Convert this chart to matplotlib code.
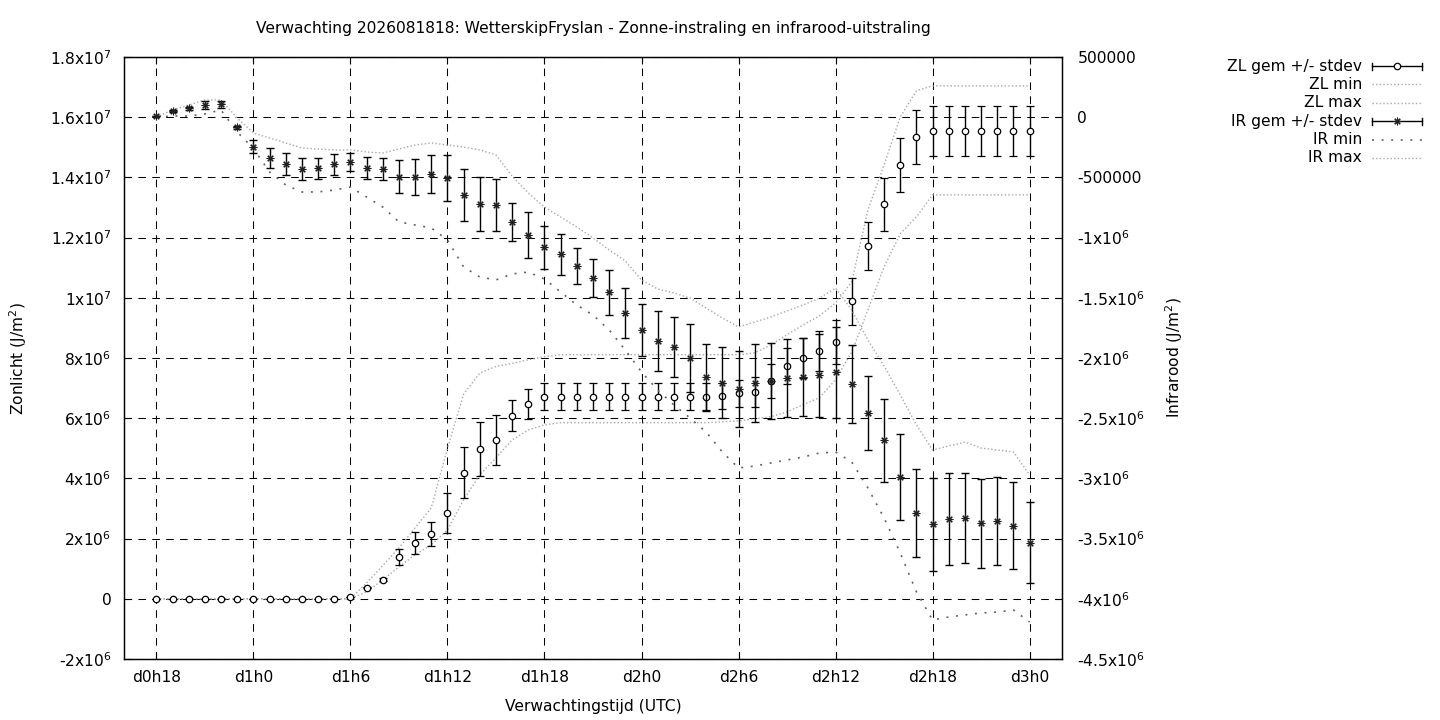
import numpy as np
import matplotlib
matplotlib.use("Agg")
import matplotlib.pyplot as plt
from matplotlib.lines import Line2D

plt.rcParams['font.family'] = ['DejaVu Sans']
plt.rcParams['lines.scale_dashes'] = False
plt.rcParams['font.size'] = 11.2

# ---------------- data ----------------
hours = list(range(18, 73))  # forecast hour since d0h0, hourly
xtick_hours = [18, 24, 30, 36, 42, 48, 54, 60, 66, 72]
xtick_labels = ['d0h18', 'd1h0', 'd1h6', 'd1h12', 'd1h18', 'd2h0', 'd2h6', 'd2h12', 'd2h18', 'd3h0']

zl_mean = [0, 0, 0, 0, 0, 0, 0, 0, 0, 0, 0, 0,
           0.05e6, 0.37e6, 0.63e6, 1.40e6, 1.86e6, 2.16e6, 2.86e6, 4.19e6, 4.98e6, 5.28e6, 6.08e6, 6.48e6,
           6.72e6, 6.72e6, 6.72e6, 6.72e6, 6.72e6, 6.72e6, 6.72e6, 6.72e6, 6.72e6, 6.72e6, 6.72e6, 6.74e6,
           6.83e6, 6.87e6, 7.23e6, 7.73e6, 8.00e6, 8.23e6, 8.53e6, 9.88e6, 11.72e6, 13.11e6, 14.41e6, 15.34e6,
           15.54e6, 15.54e6, 15.54e6, 15.54e6, 15.54e6, 15.54e6, 15.54e6]
zl_std = [0, 0, 0, 0, 0, 0, 0, 0, 0, 0, 0, 0,
          0, 0.02e6, 0.05e6, 0.27e6, 0.37e6, 0.39e6, 0.66e6, 0.84e6, 0.90e6, 0.83e6, 0.51e6, 0.49e6,
          0.44e6, 0.44e6, 0.44e6, 0.44e6, 0.44e6, 0.44e6, 0.44e6, 0.44e6, 0.44e6, 0.44e6, 0.44e6, 0.44e6,
          0.45e6, 0.50e6, 0.56e6, 0.60e6, 0.65e6, 0.66e6, 0.72e6, 0.78e6, 0.79e6, 0.88e6, 0.91e6, 0.91e6,
          0.84e6, 0.84e6, 0.84e6, 0.84e6, 0.84e6, 0.84e6, 0.84e6]
zl_min = [0, 0, 0, 0, 0, 0, 0, 0, 0, 0, 0, 0,
          0, 0.23e6, 0.63e6, 1.06e6, 1.46e6, 1.79e6, 2.29e6, 3.29e6, 4.12e6, 4.68e6, 5.28e6, 5.61e6,
          5.78e6, 5.85e6, 5.85e6, 5.85e6, 5.85e6, 5.85e6, 5.85e6, 5.85e6, 5.85e6, 5.85e6, 5.85e6, 5.88e6,
          5.91e6, 5.98e6, 6.05e6, 6.21e6, 6.45e6, 6.68e6, 7.28e6, 8.20e6, 9.60e6, 11.03e6, 12.13e6, 12.69e6,
          13.42e6, 13.42e6, 13.42e6, 13.42e6, 13.42e6, 13.42e6, 13.42e6]
zl_max = [0, 0, 0, 0, 0, 0, 0, 0, 0, 0, 0, 0,
          0, 0.53e6, 1.10e6, 1.69e6, 2.36e6, 3.02e6, 5.00e6, 6.80e6, 7.50e6, 7.72e6, 7.82e6, 7.94e6,
          8.04e6, 8.11e6, 8.11e6, 8.11e6, 8.11e6, 8.11e6, 8.11e6, 8.11e6, 8.11e6, 8.11e6, 8.11e6, 8.11e6,
          8.11e6, 8.17e6, 8.44e6, 8.77e6, 9.10e6, 9.40e6, 9.83e6, 10.53e6, 12.92e6, 14.42e6, 16.01e6, 16.88e6,
          17.04e6, 17.04e6, 17.04e6, 17.04e6, 17.04e6, 17.04e6, 17.04e6]

ir_mean = [1.0e4, 5.1e4, 7.4e4, 1.01e5, 1.07e5, -8.4e4, -2.45e5, -3.41e5, -3.91e5, -4.30e5, -4.24e5, -3.91e5,
           -3.70e5, -4.24e5, -4.30e5, -4.94e5, -4.94e5, -4.72e5, -5.07e5, -6.46e5, -7.21e5, -7.32e5, -8.70e5, -9.81e5,
           -1.081e6, -1.139e6, -1.236e6, -1.338e6, -1.455e6, -1.629e6, -1.767e6, -1.859e6, -1.906e6, -2.002e6, -2.160e6, -2.205e6,
           -2.260e6, -2.205e6, -2.191e6, -2.169e6, -2.155e6, -2.145e6, -2.119e6, -2.218e6, -2.454e6, -2.684e6, -2.988e6, -3.290e6,
           -3.381e6, -3.340e6, -3.331e6, -3.373e6, -3.354e6, -3.393e6, -3.534e6]
ir_std = [4e3, 8e3, 1.2e4, 3.2e4, 2.7e4, 1.2e4, 5.6e4, 8.3e4, 9.0e4, 9.0e4, 8.7e4, 8.7e4,
          7.5e4, 9.1e4, 9.4e4, 1.39e5, 1.50e5, 1.54e5, 1.89e5, 2.16e5, 2.24e5, 2.16e5, 1.58e5, 1.91e5,
          1.79e5, 1.70e5, 1.50e5, 1.58e5, 1.87e5, 2.08e5, 2.16e5, 2.47e5, 2.49e5, 2.82e5, 2.80e5, 2.95e5,
          3.16e5, 3.24e5, 3.16e5, 3.24e5, 3.24e5, 3.41e5, 3.80e5, 3.24e5, 3.07e5, 3.43e5, 3.57e5, 3.65e5,
          3.86e5, 3.82e5, 3.74e5, 3.71e5, 3.68e5, 3.60e5, 3.36e5]
ir_min = [0, 1.0e4, 1.0e4, 2.7e4, 6.0e4, -1.23e5, -2.60e5, -4.55e5, -5.63e5, -6.21e5, -6.21e5, -6.05e5,
          -5.80e5, -6.63e5, -7.46e5, -8.70e5, -8.95e5, -9.20e5, -1.020e6, -1.244e6, -1.327e6, -1.352e6, -1.302e6, -1.286e6,
          -1.344e6, -1.452e6, -1.560e6, -1.643e6, -1.767e6, -1.934e6, -2.116e6, -2.266e6, -2.390e6, -2.498e6, -2.615e6, -2.781e6,
          -2.914e6, -2.897e6, -2.872e6, -2.847e6, -2.822e6, -2.789e6, -2.781e6, -2.864e6, -3.080e6, -3.329e6, -3.620e6, -3.943e6,
          -4.176e6, -4.151e6, -4.134e6, -4.118e6, -4.110e6, -4.093e6, -4.193e6]
ir_max = [0, 6.0e4, 1.01e5, 1.43e5, 1.43e5, -7e3, -1.31e5, -1.73e5, -2.14e5, -2.56e5, -2.64e5, -2.72e5,
          -2.72e5, -2.89e5, -2.97e5, -2.64e5, -2.31e5, -2.14e5, -2.31e5, -2.48e5, -2.72e5, -3.14e5, -4.90e5, -6.30e5,
          -7.46e5, -8.29e5, -9.12e5, -1.003e6, -1.103e6, -1.194e6, -1.352e6, -1.427e6, -1.460e6, -1.502e6, -1.585e6, -1.668e6,
          -1.742e6, -1.701e6, -1.659e6, -1.609e6, -1.559e6, -1.502e6, -1.419e6, -1.601e6, -1.850e6, -2.066e6, -2.307e6, -2.556e6,
          -2.764e6, -2.731e6, -2.698e6, -2.748e6, -2.764e6, -2.781e6, -2.972e6]

zl_ticks = [-2e6, 0, 2e6, 4e6, 6e6, 8e6, 1e7, 1.2e7, 1.4e7, 1.6e7, 1.8e7]
ir_ticks = [-4.5e6, -4e6, -3.5e6, -3e6, -2.5e6, -2e6, -1.5e6, -1e6, -5e5, 0, 5e5]

title = "Verwachting 2026081818: WetterskipFryslan - Zonne-instraling en infrarood-uitstraling"
labels = ["ZL gem +/- stdev", "ZL min", "ZL max", "IR gem +/- stdev", "IR min", "IR max"]


def gp_fmt(v):
    if v == 0:
        return "0"
    if abs(v) < 1e6:
        return "%d" % int(round(v))
    e = int(np.floor(np.log10(abs(v)) + 1e-9))
    m = v / 10 ** e
    return "%gx10$^{%d}$" % (m, e)


# ---------------- styles ----------------
LIGHT = '#a8a8a8'
DARK = '#606060'
ls_light = (0, (1.0, 1.6))
ls_dark = (0, (1.4, 5.5))
grid_ls = (0, (5.5, 4.5))
star_marker = (8, 2, 0)

W, H = 1440, 720
fig = plt.figure(figsize=(14.4, 7.2), dpi=100)
L, R, T, B = 124, 1062, 57, 659
ax = fig.add_axes([L / W, 1 - B / H, (R - L) / W, (B - T) / H])
ax2 = ax.twinx()

ax.set_xlim(16, 74)
ax.set_ylim(-2e6, 1.8e7)
ax2.set_ylim(-4.5e6, 5e5)

ax.set_xticks(xtick_hours)
ax.set_xticklabels(xtick_labels)
ax.set_yticks(zl_ticks)
ax.set_yticklabels([gp_fmt(v) for v in zl_ticks])
ax2.set_yticks(ir_ticks)
ax2.set_yticklabels([gp_fmt(v) for v in ir_ticks])

ax.minorticks_off()
ax2.minorticks_off()
ax.tick_params(axis='x', direction='in', length=5, width=0.8, top=True, bottom=True, pad=8)
ax.tick_params(axis='y', direction='in', length=5, width=0.8, left=True, right=False, pad=9)
ax2.tick_params(axis='y', direction='in', length=5, width=0.8, right=True, left=False, pad=11)

ax.grid(True, color='black', linewidth=0.75, linestyle=grid_ls)
ax.set_axisbelow(True)
for a in (ax, ax2):
    for s in a.spines.values():
        s.set_linewidth(0.9)
        s.set_color('black')

# ZL
ax.errorbar(hours, zl_mean, yerr=zl_std, fmt='o', ms=4.6, mfc='white', mec='black', mew=0.9,
            ecolor='black', elinewidth=1.0, capsize=2.7, capthick=1.0, zorder=3)
ax.plot(hours, zl_min, color=LIGHT, lw=1.0, linestyle=ls_light, zorder=2)
ax.plot(hours, zl_max, color=LIGHT, lw=1.0, linestyle=ls_light, zorder=2)

# IR
ax2.errorbar(hours, ir_mean, yerr=ir_std, fmt='none', ecolor='black', elinewidth=1.0,
             capsize=2.7, capthick=1.0, zorder=3)
ax2.plot(hours, ir_mean, linestyle='none', marker=star_marker, ms=5.5, mec='#202020', mew=0.8, zorder=4)
ax2.plot(hours, ir_min, color=DARK, lw=1.2, linestyle=ls_dark, zorder=2)
ax2.plot(hours, ir_max, color=LIGHT, lw=1.0, linestyle=ls_light, zorder=2)

# texts
fig.text(593 / W, 1 - 29 / H, title, ha='center', va='center')
fig.text(593 / W, 1 - 706 / H, "Verwachtingstijd (UTC)", ha='center', va='center')
fig.text(18 / W, 1 - 358 / H, "Zonlicht (J/m$^2$)", ha='center', va='center', rotation=90)
fig.text(1174 / W, 1 - 358 / H, "Infrarood (J/m$^2$)", ha='center', va='center', rotation=90)

# legend (gnuplot style: text right-aligned, sample on the right)
lg = fig.add_axes([0, 0, 1, 1], zorder=10)
lg.set_xlim(0, W)
lg.set_ylim(H, 0)
lg.axis('off')
lg.patch.set_alpha(0)
x_txt, x0, x1 = 1362, 1372, 1422
ys = [66 + 18.4 * i for i in range(6)]
for lab, y in zip(labels, ys):
    lg.text(x_txt, y, lab, ha='right', va='center')
for y, mk in ((ys[0], 'o'), (ys[3], star_marker)):
    lg.add_line(Line2D([x0, x1], [y, y], color='black', lw=1.0))
    lg.add_line(Line2D([x0, x0], [y - 3.5, y + 3.5], color='black', lw=1.0))
    lg.add_line(Line2D([x1, x1], [y - 3.5, y + 3.5], color='black', lw=1.0))
    if mk == 'o':
        lg.add_line(Line2D([(x0 + x1) / 2], [y], marker='o', ms=4.6, mfc='white', mec='black', mew=0.9))
    else:
        lg.add_line(Line2D([(x0 + x1) / 2], [y], marker=mk, ms=5.5, mec='#202020', mew=0.8))
lg.add_line(Line2D([x0, x1], [ys[1]] * 2, color=LIGHT, lw=1.0, linestyle=ls_light))
lg.add_line(Line2D([x0, x1], [ys[2]] * 2, color=LIGHT, lw=1.0, linestyle=ls_light))
lg.add_line(Line2D([x0, x1], [ys[4]] * 2, color=DARK, lw=1.2, linestyle=ls_dark))
lg.add_line(Line2D([x0, x1], [ys[5]] * 2, color=LIGHT, lw=1.0, linestyle=ls_light))

fig.savefig("out.png", dpi=100, facecolor='white')
